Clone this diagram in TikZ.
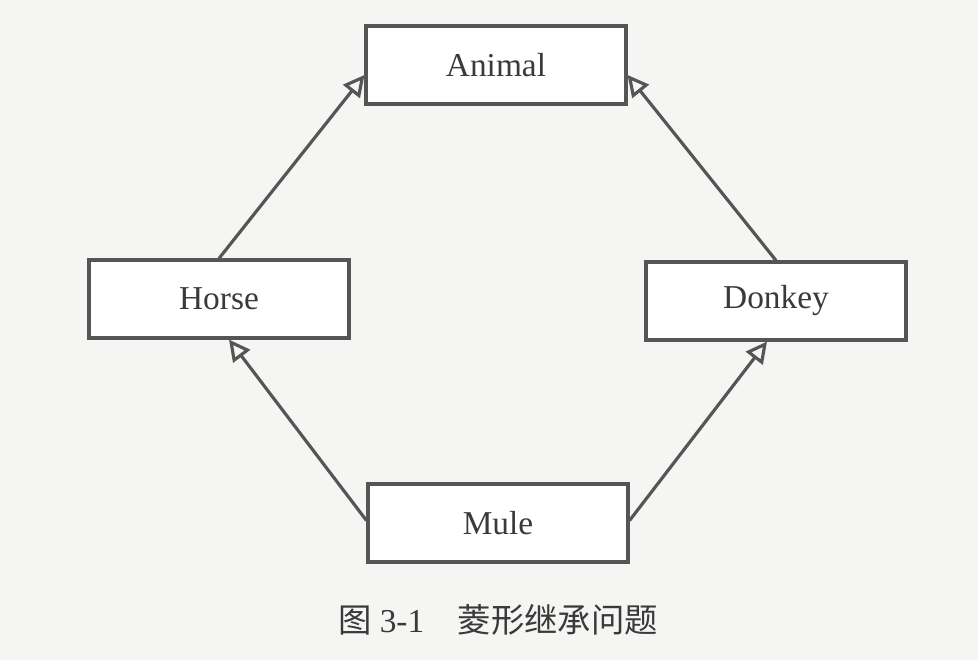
\documentclass[tikz,border=0pt]{standalone}
\usepackage{fontspec}
\setmainfont{Liberation Serif}
\newfontfamily\cjk{Noto Sans CJK SC}
\usetikzlibrary{arrows.meta,calc}
\definecolor{ink}{HTML}{3A3A3A}
\definecolor{frame}{HTML}{555555}
\definecolor{paper}{HTML}{F5F5F3}
\tikzset{>={Triangle[open,length=12pt,width=12pt]},
  every node/.style={font=\fontsize{19}{22}\selectfont,text=ink},
  classbox/.style={draw=frame,line width=1.8pt,fill=white,minimum width=5.2cm,minimum height=1.56cm},
  inherit/.style={->,draw=frame,line width=1.8pt}}

\begin{document}
\begin{tikzpicture}[x=0.02cm,y=-0.02cm]
\fill[paper] (0,0) rectangle (978,660);
\node[classbox] (animal) at (496,65) {Animal};
\node[classbox] (horse) at (219,299) {Horse};
\node[classbox] (donkey) at (776,301) {Donkey};
\node[classbox] (mule) at (498,523) {Mule};
\draw[inherit] (horse.north) -- ([yshift=-0.2cm]animal.west);
\draw[inherit] (donkey.north) -- ([yshift=-0.2cm]animal.east);
\draw[inherit] ([yshift=0.05cm]mule.west) -- ([xshift=0.2cm]horse.south);
\draw[inherit] ([yshift=0.05cm]mule.east) -- ([xshift=-0.18cm]donkey.south);
\node (caption) at (498,620) {{\cjk 图} 3-1\hspace{1em}{\cjk 菱形继承问题}};
\end{tikzpicture}
\end{document}
